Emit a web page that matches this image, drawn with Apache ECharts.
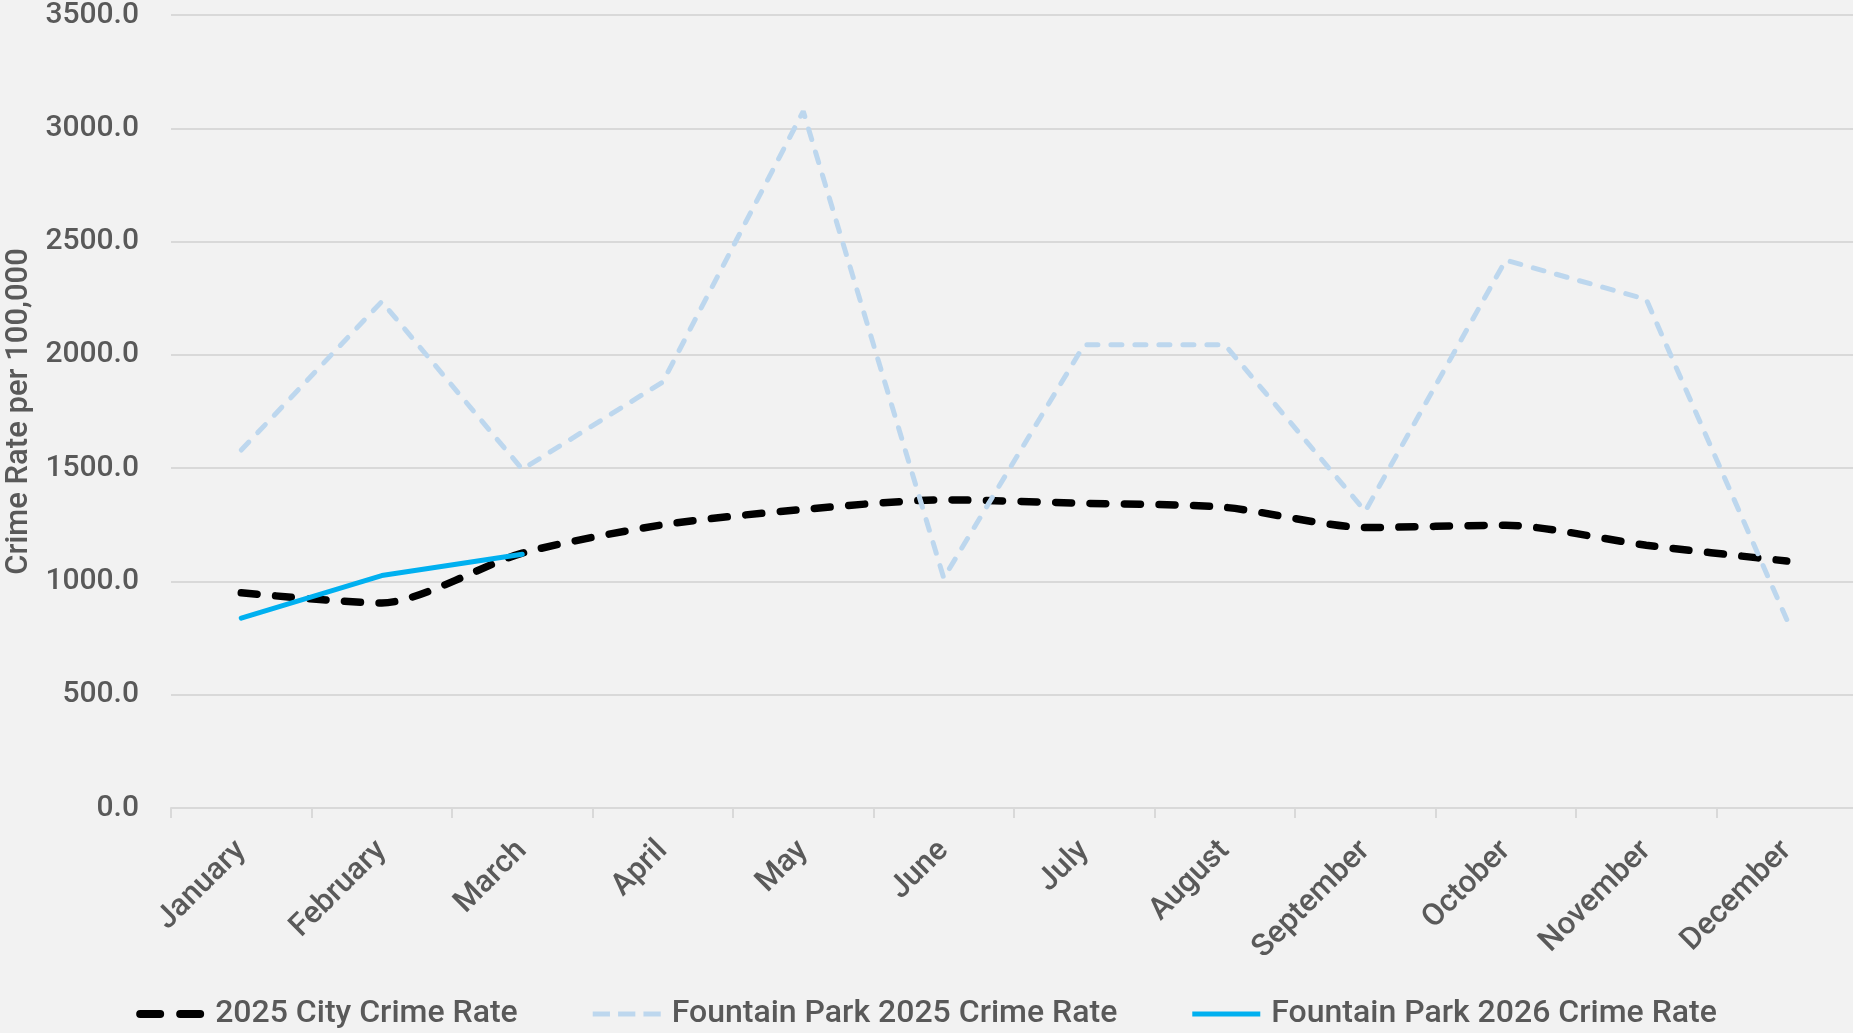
<!DOCTYPE html>
<html>
<head>
<meta charset="utf-8">
<script src="https://cdn.jsdelivr.net/npm/echarts@6/dist/echarts.min.js"></script>
<style>
  html, body { margin: 0; padding: 0; background: #f2f2f2; }
  #chart { width: 1853px; height: 1033px; }
</style>
</head>
<body>
<div id="chart"></div>
<script>
const months = ['January', 'February', 'March', 'April', 'May', 'June', 'July', 'August', 'September', 'October', 'November', 'December']
const cityRate2025 = [950, 905, 1125, 1250, 1318, 1360, 1345, 1327, 1238, 1248, 1160, 1090]
const fountainPark2025 = [1580, 2235, 1495, 1880, 3075, 1015, 2045, 2045, 1310, 2418, 2245, 832]
const fountainPark2026 = [838, 1026, 1120]

const seriesNames = ['2025 City Crime Rate', 'Fountain Park 2025 Crime Rate', 'Fountain Park 2026 Crime Rate']

const textColor = '#595959'
const gridColor = '#d9d9d9'
const font = 'Roboto'

// legend icons drawn as dash paths (68 x 8 box)
const iconCity = 'path://M4,0h20a4,4 0 0 1 0,8h-20a4,4 0 0 1 0,-8z M44,0h20a4,4 0 0 1 0,8h-20a4,4 0 0 1 0,-8z'
const iconPark25 = 'path://M0,1.5h17v5h-17z M25,1.5h17v5h-17z M50,1.5h17v5h-17z'
const iconPark26 = 'path://M0,1.5h68v5h-68z'

const chart = echarts.init(document.getElementById('chart'))

const option = {
  backgroundColor: '#f2f2f2',
  animation: false,
  grid: { left: 171, right: -4, top: 15, bottom: 225, outerBoundsMode: 'none' },
  legend: {
    bottom: -2,
    left: 'center',
    itemWidth: 68,
    itemHeight: 8,
    itemGap: 75,
    textStyle: { color: textColor, fontSize: 32, fontWeight: 500, fontFamily: font, padding: [0, 0, 0, 6] },
    data: [
      { name: seriesNames[0], icon: iconCity },
      { name: seriesNames[1], icon: iconPark25 },
      { name: seriesNames[2], icon: iconPark26 }
    ]
  },
  xAxis: {
    type: 'category',
    data: months,
    boundaryGap: true,
    axisLine: { lineStyle: { color: gridColor, width: 2 } },
    axisTick: { show: true, length: 10, lineStyle: { color: gridColor, width: 2 } },
    axisLabel: {
      rotate: 45,
      margin: 38,
      color: textColor,
      fontSize: 31,
      fontWeight: 500,
      fontFamily: font,
      interval: 0
    }
  },
  yAxis: {
    type: 'value',
    min: 0,
    max: 3500,
    interval: 500,
    name: 'Crime Rate per 100,000',
    nameLocation: 'middle',
    nameGap: 128,
    nameTextStyle: { color: textColor, fontSize: 31, fontWeight: 500, fontFamily: font },
    axisLine: { show: false },
    axisTick: { show: false },
    splitLine: { lineStyle: { color: gridColor, width: 2 } },
    axisLabel: {
      margin: 32,
      color: textColor,
      fontSize: 30,
      fontWeight: 500,
      fontFamily: font,
      formatter: v => v.toFixed(1)
    }
  },
  series: [
    {
      name: seriesNames[0],
      type: 'line',
      data: cityRate2025,
      smooth: 0.25,
      showSymbol: false,
      symbol: 'none',
      itemStyle: { color: '#000000' },
      lineStyle: { color: '#000000', width: 7.5, type: [16, 18.5], cap: 'round' }
    },
    {
      name: seriesNames[1],
      type: 'line',
      data: fountainPark2025,
      showSymbol: false,
      symbol: 'none',
      itemStyle: { color: '#bdd7ee' },
      lineStyle: { color: '#bdd7ee', width: 5, type: [11, 13], cap: 'round' }
    },
    {
      name: seriesNames[2],
      type: 'line',
      data: fountainPark2026,
      showSymbol: false,
      symbol: 'none',
      itemStyle: { color: '#00b0f0' },
      lineStyle: { color: '#00b0f0', width: 5, cap: 'round' }
    }
  ]
}

chart.setOption(option)
</script>
</body>
</html>
